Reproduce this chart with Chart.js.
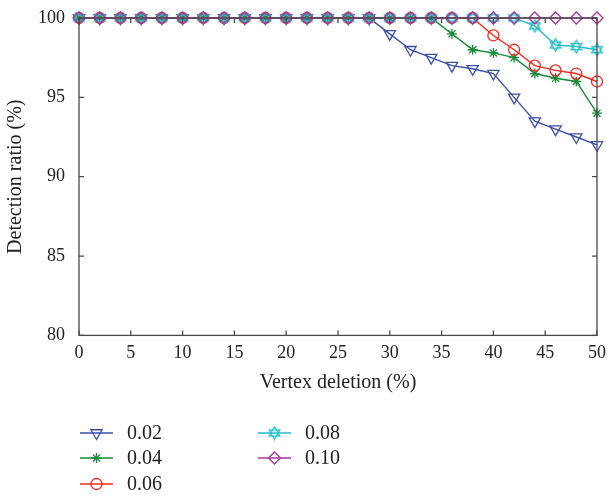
<!DOCTYPE html>
<html>
<head>
<meta charset="utf-8">
<script src="https://cdn.jsdelivr.net/npm/chart.js@4"></script>
<style>
  html, body { margin: 0; padding: 0; background: #fff; }
  #wrap { width: 607px; height: 498px; }
</style>
</head>
<body>
<div id="wrap"><canvas id="detection-chart"></canvas></div>
<script>
var deletion = [0, 2, 4, 6, 8, 10, 12, 14, 16, 18, 20, 22, 24, 26, 28, 30, 32, 34, 36, 38, 40, 42, 44, 46, 48, 50]
var ratio_002 = [100, 100, 100, 100, 100, 100, 100, 100, 100, 100, 100, 100, 100, 100, 100, 99, 98, 97.5, 97, 96.8, 96.5, 95, 93.5, 93, 92.5, 92]
var ratio_004 = [100, 100, 100, 100, 100, 100, 100, 100, 100, 100, 100, 100, 100, 100, 100, 100, 100, 100, 99, 98, 97.8, 97.5, 96.5, 96.2, 96, 94]
var ratio_006 = [100, 100, 100, 100, 100, 100, 100, 100, 100, 100, 100, 100, 100, 100, 100, 100, 100, 100, 100, 100, 98.9, 98, 97, 96.7, 96.5, 96]
var ratio_008 = [100, 100, 100, 100, 100, 100, 100, 100, 100, 100, 100, 100, 100, 100, 100, 100, 100, 100, 100, 100, 100, 100, 99.5, 98.3, 98.2, 98]
var ratio_010 = [100, 100, 100, 100, 100, 100, 100, 100, 100, 100, 100, 100, 100, 100, 100, 100, 100, 100, 100, 100, 100, 100, 100, 100, 100, 100]
var series_labels = ['0.02', '0.04', '0.06', '0.08', '0.10']

const serif = "'Liberation Serif', 'DejaVu Serif', serif"
const axisColor = '#4a4a4a'

// six pointed star marker, Chart.js has none
function hexagram(color) {
  const c = document.createElement('canvas')
  c.width = 15
  c.height = 15
  const g = c.getContext('2d')
  g.strokeStyle = color
  g.lineWidth = 1.2
  const r = 6.3
  for (let k = 0; k < 2; k++) {
    g.beginPath()
    for (let i = 0; i < 3; i++) {
      const a = -Math.PI / 2 + k * Math.PI + i * 2 * Math.PI / 3
      const px = 7.5 + r * Math.cos(a)
      const py = 7.5 + r * Math.sin(a)
      if (i === 0) g.moveTo(px, py)
      else g.lineTo(px, py)
    }
    g.closePath()
    g.stroke()
  }
  return c
}

function toPoints(values) {
  return values.map((v, i) => ({ x: deletion[i], y: v }))
}

const styles = [
  { color: '#3b4fa6', pointStyle: 'triangle', rotation: 180, radius: 6.5, order: 5 },
  { color: '#1b8a3c', pointStyle: 'star', rotation: 0, radius: 5, order: 4 },
  { color: '#ec2a24', pointStyle: 'circle', rotation: 0, radius: 5.5, order: 3 },
  { color: '#26bcc6', pointStyle: hexagram('#26bcc6'), rotation: 0, radius: 6, order: 2 },
  { color: '#a3399f', pointStyle: 'rectRot', rotation: 0, radius: 6, order: 1 }
]
const allValues = [ratio_002, ratio_004, ratio_006, ratio_008, ratio_010]

const datasets = allValues.map((vals, i) => ({
  label: series_labels[i],
  data: toPoints(vals),
  borderColor: styles[i].color,
  backgroundColor: 'rgba(0,0,0,0)',
  pointBorderColor: styles[i].color,
  pointBackgroundColor: 'rgba(0,0,0,0)',
  pointStyle: styles[i].pointStyle,
  pointRotation: styles[i].rotation,
  pointRadius: styles[i].radius,
  pointBorderWidth: 1.3,
  borderWidth: 1.4,
  order: styles[i].order,
  clip: false
}))

// box around the plot with inward ticks, like the original figure
const boxTicks = {
  id: 'boxTicks',
  afterDraw(chart) {
    const { ctx, chartArea: a, scales } = chart
    ctx.save()
    ctx.strokeStyle = axisColor
    ctx.lineWidth = 1.3
    ctx.strokeRect(a.left, a.top, a.right - a.left, a.bottom - a.top)
    ctx.beginPath()
    scales.x.ticks.forEach(t => {
      const px = scales.x.getPixelForValue(t.value)
      ctx.moveTo(px, a.bottom)
      ctx.lineTo(px, a.bottom - 5)
      ctx.moveTo(px, a.top)
      ctx.lineTo(px, a.top + 5)
    })
    scales.y.ticks.forEach(t => {
      const py = scales.y.getPixelForValue(t.value)
      ctx.moveTo(a.left, py)
      ctx.lineTo(a.left + 5, py)
      ctx.moveTo(a.right, py)
      ctx.lineTo(a.right - 5, py)
    })
    ctx.stroke()
    ctx.restore()
  }
}

// legend in two columns, filled down the first column
const columnLegend = {
  id: 'columnLegend',
  afterDraw(chart) {
    const ctx = chart.ctx
    const cols = [80, 258]
    const rows = [433, 458, 484]
    ctx.save()
    chart.data.datasets.forEach((ds, i) => {
      const col = i < 3 ? 0 : 1
      const row = i < 3 ? i : i - 3
      const x0 = cols[col]
      const y = rows[row]
      ctx.strokeStyle = ds.borderColor
      ctx.lineWidth = 1.4
      ctx.beginPath()
      ctx.moveTo(x0, y)
      ctx.lineTo(x0 + 33, y)
      ctx.stroke()
      ctx.lineWidth = 1.3
      ctx.fillStyle = 'rgba(0,0,0,0)'
      Chart.helpers.drawPoint(ctx, {
        pointStyle: ds.pointStyle,
        rotation: ds.pointRotation,
        radius: ds.pointRadius,
        borderWidth: 1.3
      }, x0 + 16.5, y)
      ctx.fillStyle = '#222'
      ctx.font = '20px ' + serif
      ctx.textBaseline = 'middle'
      ctx.textAlign = 'left'
      ctx.fillText(ds.label, x0 + 47, y + 1)
    })
    ctx.restore()
  }
}

const detectionChart = document.getElementById('detection-chart')
new Chart(detectionChart, {
  type: 'line',
  data: { datasets: datasets },
  plugins: [boxTicks, columnLegend],
  options: {
    responsive: true,
    maintainAspectRatio: false,
    animation: false,
    layout: {
      padding: { top: 18, right: 0, bottom: 103, left: 4 }
    },
    scales: {
      x: {
        type: 'linear',
        min: 0,
        max: 50,
        grid: { display: false, drawTicks: false },
        border: { display: false },
        afterFit: function (scale) {
          scale.paddingRight = 10
        },
        ticks: {
          stepSize: 5,
          padding: 7,
          color: '#222',
          font: { family: serif, size: 18 }
        },
        title: {
          display: true,
          text: 'Vertex deletion (%)',
          color: '#222',
          padding: { top: 0, bottom: 0 },
          font: { family: serif, size: 20 }
        }
      },
      y: {
        min: 80,
        max: 100,
        grid: { display: false },
        border: { display: false },
        ticks: {
          stepSize: 5,
          padding: 6,
          color: '#222',
          font: { family: serif, size: 18 }
        },
        title: {
          display: true,
          text: 'Detection ratio (%)',
          color: '#222',
          padding: { top: 0, bottom: 4 },
          font: { family: serif, size: 20 }
        }
      }
    },
    plugins: {
      legend: { display: false },
      tooltip: { enabled: false }
    }
  }
})
</script>
</body>
</html>
